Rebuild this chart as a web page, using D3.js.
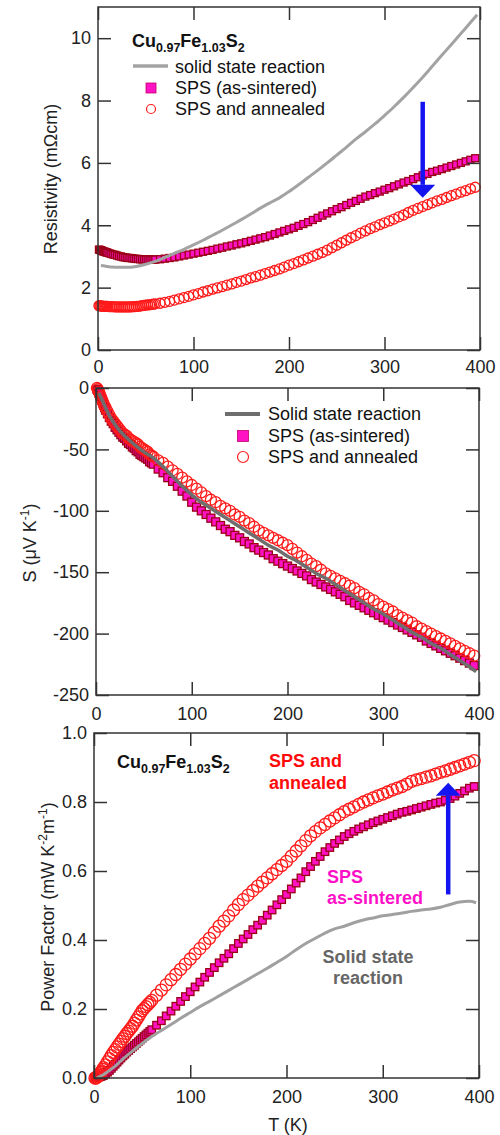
<!DOCTYPE html>
<html>
<head>
<meta charset="utf-8">
<script src="https://cdn.jsdelivr.net/npm/d3@7"></script>
<style>
  body { margin: 0; background: #fff; }
  svg { font-family: "Liberation Sans", Arial, sans-serif; }
</style>
</head>
<body>
<div id="chart"></div>
<script>
"use strict";

/* global d3 */

// temperature grid of the SPS samples (K)
const tempsPts = [1, 2, 3, 4, 5, 6, 7, 8, 9, 10,
  12, 14, 16, 18, 20, 22, 24, 26, 28, 30,
  32, 34, 36, 38, 40, 42, 44, 46, 48, 50, 52, 54, 56, 58, 60,
  65, 70, 75, 80, 85, 90, 95, 100,
  105, 110, 115, 120, 125, 130, 135, 140, 145, 150, 155, 160, 165, 170, 175, 180, 185, 190, 195, 200,
  205, 210, 215, 220, 225, 230, 235, 240, 245, 250, 255, 260, 265, 270, 275, 280, 285, 290, 295, 300,
  305, 310, 315, 320, 325, 330, 335, 340, 345, 350, 355, 360, 365, 370, 375, 380, 385, 390, 395];

// temperature grid of the solid state reaction sample (K)
const tempsLine = [3, 6, 10, 15, 20, 25, 30, 40, 50, 60, 70, 80, 90, 100, 110, 120, 130, 140, 150,
  160, 170, 180, 190, 200, 210, 220, 230, 240, 250, 260, 270, 280, 290, 300, 310, 320, 330, 340,
  350, 360, 370, 380, 390, 397];

// resistivity (mOhm cm)
const rhoSsr = [2.71, 2.70, 2.68, 2.66, 2.65, 2.65, 2.65, 2.68, 2.75, 2.84, 2.97, 3.10, 3.23, 3.37,
  3.52, 3.68, 3.84, 4.01, 4.18, 4.36, 4.55, 4.72, 4.88, 5.08, 5.30, 5.53, 5.76, 6.00, 6.25, 6.50,
  6.76, 7.00, 7.25, 7.52, 7.80, 8.10, 8.42, 8.75, 9.10, 9.45, 9.80, 10.15, 10.50, 10.75];

const rhoSps = [3.22, 3.21, 3.20, 3.19, 3.17, 3.16, 3.15, 3.14, 3.13, 3.12,
  3.10, 3.08, 3.06, 3.05, 3.03, 3.01, 3.00, 2.98, 2.97, 2.96,
  2.95, 2.95, 2.94, 2.93, 2.92, 2.92, 2.91, 2.91, 2.90, 2.90, 2.90, 2.90, 2.90, 2.90, 2.90,
  2.91, 2.93, 2.95, 2.97, 3.00, 3.03, 3.06, 3.09,
  3.12, 3.15, 3.18, 3.21, 3.25, 3.28, 3.32, 3.35, 3.39, 3.42, 3.46, 3.50, 3.54, 3.58, 3.62, 3.67,
  3.72, 3.77, 3.82, 3.87,
  3.92, 3.98, 4.04, 4.10, 4.17, 4.24, 4.31, 4.38, 4.45, 4.52, 4.58, 4.65, 4.72, 4.78, 4.85, 4.92,
  4.97, 5.03, 5.08, 5.14,
  5.19, 5.25, 5.31, 5.37, 5.42, 5.48, 5.54, 5.60, 5.65, 5.71, 5.75, 5.80, 5.85, 5.90, 5.95, 6.00,
  6.05, 6.10, 6.15];

const rhoAnn = [1.42, 1.42, 1.41, 1.41, 1.41, 1.40, 1.40, 1.40, 1.40, 1.40,
  1.39, 1.39, 1.39, 1.38, 1.38, 1.38, 1.38, 1.38, 1.38, 1.38,
  1.38, 1.38, 1.39, 1.39, 1.40, 1.40, 1.41, 1.42, 1.43, 1.44, 1.45, 1.45, 1.46, 1.47, 1.48,
  1.50, 1.53, 1.56, 1.60, 1.64, 1.68, 1.72, 1.77,
  1.81, 1.86, 1.90, 1.95, 1.99, 2.03, 2.08, 2.12, 2.17, 2.21, 2.26, 2.31, 2.35, 2.40, 2.45, 2.50,
  2.55, 2.60, 2.66, 2.72,
  2.77, 2.83, 2.89, 2.95, 3.01, 3.07, 3.13, 3.20, 3.28, 3.36, 3.44, 3.52, 3.60, 3.67, 3.75, 3.82,
  3.89, 3.95, 4.02, 4.08,
  4.14, 4.20, 4.27, 4.33, 4.41, 4.48, 4.54, 4.60, 4.66, 4.72, 4.78, 4.83, 4.89, 4.95, 5.00, 5.06,
  5.11, 5.17, 5.22];

// Seebeck coefficient (uV/K)
const seebSsr = [-4, -9, -16, -24, -30, -35, -39, -46, -52, -57, -64, -72, -80, -87, -93, -98, -103,
  -108, -113, -118, -123, -128, -132, -137, -141, -146, -151, -155, -160, -165, -170, -175, -180,
  -184, -189, -194, -199, -203, -208, -212, -217, -222, -227, -231];

const seebSps = [-1, -2, -4, -6, -8, -10, -12, -14, -16, -18,
  -21, -24, -27, -29, -32, -34, -36, -38, -40, -41,
  -43, -45, -46, -48, -49, -51, -52, -54, -55, -56, -57, -58, -60, -61, -62,
  -66, -69, -73, -76, -80, -84, -88, -93,
  -97, -100, -103, -106, -109, -112, -115, -117, -120, -122, -125, -127, -130, -132, -134, -136,
  -139, -141, -143, -145,
  -147, -149, -151, -153, -156, -158, -160, -162, -164, -166, -168, -170, -173, -175, -177, -179,
  -181, -183, -185, -187,
  -189, -191, -193, -195, -197, -199, -201, -203, -206, -208, -210, -212, -214, -216, -218, -220,
  -222, -224, -226];

const seebAnn = [0, -1, -3, -5, -7, -9, -11, -13, -15, -16,
  -19, -22, -25, -27, -29, -31, -33, -35, -37, -38,
  -39, -41, -42, -43, -44, -45, -46, -48, -49, -50, -51, -52, -54, -55, -56,
  -59, -61, -64, -67, -70, -73, -76, -79,
  -82, -85, -88, -91, -93, -96, -98, -100, -103, -105, -108, -110, -113, -116, -118, -120,
  -122, -124, -126, -128,
  -131, -134, -137, -140, -143, -145, -148, -151, -153, -155, -157, -159, -161, -163, -166, -168,
  -171, -173, -176, -178,
  -180, -182, -185, -187, -189, -191, -194, -196, -198, -200, -202, -204, -206, -208, -210, -212,
  -214, -216, -218];

// power factor (mW K^-2 m^-1)
const pfSsr = [0.0, 0.004, 0.01, 0.02, 0.03, 0.042, 0.055, 0.078, 0.10, 0.12, 0.138, 0.155, 0.173,
  0.19, 0.207, 0.222, 0.238, 0.254, 0.27, 0.286, 0.302, 0.318, 0.335, 0.352, 0.372, 0.39, 0.405,
  0.42, 0.432, 0.44, 0.45, 0.458, 0.464, 0.47, 0.474, 0.478, 0.483, 0.487, 0.49, 0.495, 0.503,
  0.51, 0.512, 0.508];

const pfSps = [0, 0, 0.001, 0.002, 0.003, 0.004, 0.005, 0.006, 0.007, 0.008,
  0.012, 0.017, 0.022, 0.028, 0.034, 0.04, 0.046, 0.052, 0.058, 0.064,
  0.069, 0.075, 0.08, 0.085, 0.09, 0.095, 0.1, 0.105, 0.11, 0.115, 0.12, 0.125, 0.13, 0.135, 0.14,
  0.153, 0.166, 0.18, 0.194, 0.208, 0.222, 0.236, 0.25,
  0.264, 0.278, 0.292, 0.306, 0.32, 0.334, 0.347, 0.36, 0.375, 0.39, 0.403, 0.416, 0.43, 0.443,
  0.457, 0.472, 0.487, 0.502, 0.517, 0.532,
  0.548, 0.565, 0.58, 0.598, 0.613, 0.628, 0.642, 0.656, 0.668, 0.68, 0.69, 0.70, 0.708, 0.715,
  0.722, 0.728, 0.734, 0.74, 0.745, 0.75,
  0.755, 0.76, 0.765, 0.77, 0.773, 0.777, 0.781, 0.785, 0.789, 0.793, 0.797, 0.80, 0.805, 0.81,
  0.817, 0.825, 0.832, 0.84, 0.845];

const pfAnn = [0, 0, 0.002, 0.005, 0.008, 0.012, 0.016, 0.02, 0.025, 0.03,
  0.038, 0.047, 0.056, 0.065, 0.074, 0.082, 0.09, 0.098, 0.106, 0.114,
  0.121, 0.129, 0.136, 0.143, 0.15, 0.159, 0.168, 0.177, 0.186, 0.195, 0.201, 0.207, 0.213, 0.219,
  0.225,
  0.24, 0.255, 0.27, 0.285, 0.30, 0.315, 0.33, 0.345,
  0.36, 0.375, 0.39, 0.405, 0.422, 0.44, 0.455, 0.47, 0.487, 0.503, 0.517, 0.53, 0.543, 0.556,
  0.568, 0.58, 0.592, 0.604, 0.616, 0.628,
  0.643, 0.658, 0.673, 0.688, 0.702, 0.714, 0.725, 0.735, 0.745, 0.754, 0.763, 0.772, 0.779, 0.786,
  0.793, 0.80, 0.806, 0.812, 0.818, 0.823,
  0.829, 0.835, 0.84, 0.845, 0.852, 0.86, 0.864, 0.868, 0.872, 0.876, 0.881, 0.886, 0.89, 0.895,
  0.90, 0.905, 0.91, 0.915, 0.92];

// axis ticks
const xTicks = [0, 100, 200, 300, 400];
const rhoTicks = [0, 2, 4, 6, 8, 10];
const seebTicks = [0, -50, -100, -150, -200, -250];
const pfTicks = [0, 0.2, 0.4, 0.6, 0.8, 1.0];

// blue arrows (T, value) from tail to tip
const rhoArrow = [[340, 7.96], [340, 4.88]];
const pfArrow = [[368, 0.532], [368, 0.856]];

const SQ_FILL = '#ff12c4';
const SQ_EDGE = '#9a0016';
const CI_EDGE = '#ff1a1a';

let svg = d3.select('#chart')
  .append('svg')
  .attr('width', 500)
  .attr('height', 1135);

function drawArrow(g, x, y, pts) {
  let x0 = x(pts[0][0]), y0 = y(pts[0][1]);
  let y1 = y(pts[1][1]);
  let dir = y1 > y0 ? 1 : -1;
  let headH = 13, headW = 12.5;
  g.append('line')
    .attr('x1', x0).attr('y1', y0)
    .attr('x2', x0).attr('y2', y1 - dir * headH)
    .attr('stroke', '#1414f0')
    .attr('stroke-width', 4.5);
  g.append('path')
    .attr('d', 'M' + (x0 - headW) + ',' + (y1 - dir * headH) +
      'L' + (x0 + headW) + ',' + (y1 - dir * headH) + 'L' + x0 + ',' + y1 + 'Z')
    .attr('fill', '#1414f0');
}

function drawPanel(p) {
  let x = d3.scaleLinear().domain([0, 400]).range([p.left, p.right]);
  let y = d3.scaleLinear().domain(p.yDomain).range([p.bottom, p.top]);
  let g = svg.append('g');

  // SPS as-sintered squares
  g.append('g').selectAll('rect')
    .data(d3.zip(tempsPts, p.squares))
    .join('rect')
    .attr('x', d => x(d[0]) - p.sq / 2)
    .attr('y', d => y(d[1]) - p.sq / 2)
    .attr('width', p.sq)
    .attr('height', p.sq)
    .attr('fill', SQ_FILL)
    .attr('stroke', SQ_EDGE)
    .attr('stroke-width', 1.3);

  // SPS annealed circles
  g.append('g').selectAll('circle')
    .data(d3.zip(tempsPts, p.circles))
    .join('circle')
    .attr('cx', d => x(d[0]))
    .attr('cy', d => y(d[1]))
    .attr('r', p.r)
    .attr('fill', 'none')
    .attr('stroke', CI_EDGE)
    .attr('stroke-width', 1.3);

  // solid state reaction line
  let line = d3.line()
    .x(d => x(d[0]))
    .y(d => y(d[1]))
    .curve(d3.curveMonotoneX);
  g.append('path')
    .datum(d3.zip(tempsLine, p.line))
    .attr('d', line)
    .attr('fill', 'none')
    .attr('stroke', p.lineColor)
    .attr('stroke-width', p.lineWidth);

  // axes with inward ticks on all sides
  let styleAxis = sel => {
    sel.select('.domain').remove();
    sel.selectAll('line').attr('stroke', '#333').attr('stroke-width', 1.5);
    sel.selectAll('text').attr('font-size', 18).attr('fill', '#222')
      .attr('font-family', '"Liberation Sans", Arial, sans-serif');
  };
  g.append('g')
    .attr('transform', 'translate(0,' + p.bottom + ')')
    .call(d3.axisBottom(x).tickValues(xTicks).tickSize(-13).tickPadding(p.xPad))
    .call(styleAxis);
  g.append('g')
    .attr('transform', 'translate(0,' + p.top + ')')
    .call(d3.axisTop(x).tickValues(xTicks).tickSize(-13).tickFormat(''))
    .call(styleAxis);
  g.append('g')
    .attr('transform', 'translate(' + p.left + ',0)')
    .call(d3.axisLeft(y).tickValues(p.yTicks).tickSize(-13).tickPadding(7).tickFormat(p.fmt))
    .call(styleAxis);
  g.append('g')
    .attr('transform', 'translate(' + p.right + ',0)')
    .call(d3.axisRight(y).tickValues(p.yTicks).tickSize(-13).tickFormat(''))
    .call(styleAxis);
  g.append('rect')
    .attr('x', p.left).attr('y', p.top)
    .attr('width', p.right - p.left).attr('height', p.bottom - p.top)
    .attr('fill', 'none')
    .attr('stroke', '#333')
    .attr('stroke-width', 1.5);

  if (p.arrow) drawArrow(g, x, y, p.arrow);
  return g;
}

function formula(g, px, py) {
  let t = g.append('text')
    .attr('x', px).attr('y', py)
    .attr('font-weight', 'bold')
    .attr('font-size', 18)
    .attr('fill', '#111');
  let parts = [['Cu', 0], ['0.97', 1], ['Fe', 0], ['1.03', 1], ['S', 0], ['2', 1]];
  let prev = 0;
  parts.forEach(pt => {
    t.append('tspan')
      .attr('dy', pt[1] === prev ? 0 : (pt[1] ? 5 : -5))
      .attr('font-size', pt[1] ? 12.5 : 18)
      .text(pt[0]);
    prev = pt[1];
  });
}

function yTitle(px, py, parts) {
  let t = svg.append('text')
    .attr('transform', 'translate(' + px + ',' + py + ') rotate(-90)')
    .attr('text-anchor', 'middle')
    .attr('font-size', 18)
    .attr('fill', '#222');
  let prev = 0;
  parts.forEach(pt => {
    t.append('tspan')
      .attr('dy', pt[1] === prev ? 0 : (pt[1] ? -7 : 7))
      .attr('font-size', pt[1] ? 12 : 18)
      .text(pt[0]);
    prev = pt[1];
  });
}

// legend symbols: rows = y of line, square, circle
function legend(g, lx, rows, lineColor, lineW, sq, r) {
  g.append('line')
    .attr('x1', lx - 18).attr('x2', lx + 17)
    .attr('y1', rows[0]).attr('y2', rows[0])
    .attr('stroke', lineColor).attr('stroke-width', lineW);
  g.append('rect')
    .attr('x', lx - sq / 2).attr('y', rows[1] - sq / 2)
    .attr('width', sq).attr('height', sq)
    .attr('fill', SQ_FILL).attr('stroke', '#c0006a').attr('stroke-width', 0.8);
  g.append('circle')
    .attr('cx', lx).attr('cy', rows[2]).attr('r', r)
    .attr('fill', 'none').attr('stroke', CI_EDGE).attr('stroke-width', 1.2);
}

// ---- resistivity ----
let g1 = drawPanel({
  top: 7, bottom: 350, left: 98, right: 480,
  yDomain: [0, 11], yTicks: rhoTicks, fmt: d => String(d),
  line: rhoSsr, lineColor: '#a3a3a3', lineWidth: 3,
  squares: rhoSps, circles: rhoAnn, sq: 7, r: 5, xPad: 10,
  arrow: rhoArrow
});
formula(g1, 132, 47);
legend(g1, 151, [66, 88, 109], '#a3a3a3', 3.5, 10, 4.5);
g1.append('g').attr('font-size', 18).attr('fill', '#111')
  .selectAll('text')
  .data([['solid state reaction', 73], ['SPS (as-sintered)', 94], ['SPS and annealed', 115]])
  .join('text')
  .attr('x', 175).attr('y', d => d[1]).text(d => d[0]);
yTitle(57, 179, [['Resistivity (m\u03A9cm)', 0]]);

// ---- Seebeck ----
let g2 = drawPanel({
  top: 388, bottom: 695, left: 96, right: 479,
  yDomain: [-250, 0], yTicks: seebTicks, fmt: d => String(d),
  line: seebSsr, lineColor: '#6e6e6e', lineWidth: 3.5,
  squares: seebSps, circles: seebAnn, sq: 8, r: 5.5, xPad: 12
});
legend(g2, 243, [414, 436, 457], '#6e6e6e', 4, 11, 5.5);
g2.append('g').attr('font-size', 18).attr('fill', '#111')
  .selectAll('text')
  .data([['Solid state reaction', 420], ['SPS (as-sintered)', 442], ['SPS and annealed', 463]])
  .join('text')
  .attr('x', 268).attr('y', d => d[1]).text(d => d[0]);
yTitle(36, 543, [['S (\u03BCV K', 0], ['-1', 1], [')', 0]]);

// ---- power factor ----
let g3 = drawPanel({
  top: 733, bottom: 1078, left: 94, right: 479,
  yDomain: [0, 1], yTicks: pfTicks, fmt: d3.format('.1f'),
  line: pfSsr, lineColor: '#a0a0a0', lineWidth: 3,
  squares: pfSps, circles: pfAnn, sq: 7.5, r: 6, xPad: 12,
  arrow: pfArrow
});
formula(g3, 117, 768);
let notes = [
  ['SPS and', 269, 767, '#ff0a0a', 'start'],
  ['annealed', 269, 789, '#ff0a0a', 'start'],
  ['SPS', 327, 883, '#ff10c8', 'start'],
  ['as-sintered', 327, 904, '#ff10c8', 'start'],
  ['Solid state', 368, 963, '#666666', 'middle'],
  ['reaction', 368, 984, '#666666', 'middle']
];
g3.append('g').attr('font-size', 18).attr('font-weight', 'bold')
  .selectAll('text')
  .data(notes)
  .join('text')
  .attr('x', d => d[1]).attr('y', d => d[2])
  .attr('fill', d => d[3])
  .attr('text-anchor', d => d[4])
  .text(d => d[0]);
yTitle(54, 907, [['Power Factor (mW K', 0], ['-2', 1], ['m', 0], ['-1', 1], [')', 0]]);

svg.append('text')
  .attr('x', 288).attr('y', 1131)
  .attr('text-anchor', 'middle')
  .attr('font-size', 18)
  .attr('fill', '#222')
  .text('T (K)');
</script>
</body>
</html>
